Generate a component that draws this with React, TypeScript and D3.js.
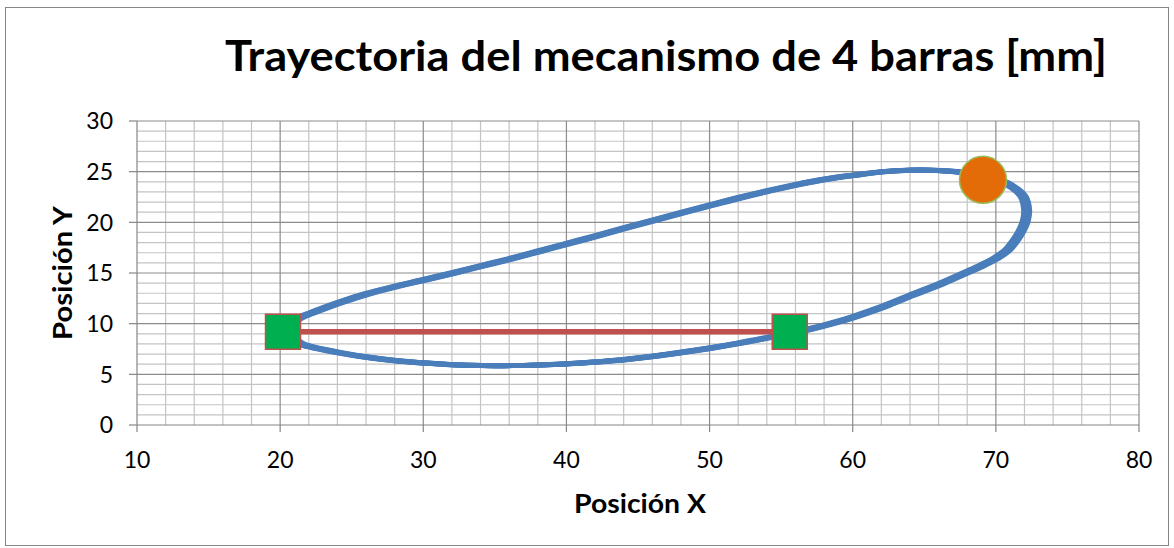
import React from "react";
import * as d3 from "d3";

// Coupler-point trajectory (mm)
const curveX = [
  20.3, 21.4, 22.1, 24.1, 26.1, 28.1, 30.1, 32.1, 34.1, 36.1, 38.1, 40.1, 42.0, 44.0, 46.1, 48.1,
  50.1, 52.1, 54.1, 56.2, 58.1, 60.1, 62.0, 64.0, 66.0, 68.0, 69.6, 71.0, 71.9, 72.15, 72.05, 71.75,
  71.3, 70.8, 70.1, 69.1, 68.1, 66.1, 64.1, 62.1, 60.1, 58.1, 57.1, 55.6, 54.1, 52.1, 50.1, 48.1, 46.1,
  44.0, 42.0, 40.1, 38.1, 36.1, 34.1, 32.1, 30.1, 28.1, 26.1, 24.1, 22.1, 21.4,
];
const curveY = [
  9.4, 10.6, 11.0, 12.05, 12.95, 13.68, 14.33, 15.0, 15.7, 16.4, 17.15, 17.9, 18.62, 19.4, 20.2, 20.96,
  21.7, 22.43, 23.1, 23.75, 24.25, 24.65, 24.98, 25.15, 25.12, 24.88, 24.45, 23.65, 22.55, 21.2, 20.1, 19.1,
  18.1, 17.25, 16.55, 15.8, 15.15, 13.9, 12.8, 11.65, 10.68, 9.86, 9.5, 9.05, 8.62, 8.08, 7.6, 7.18, 6.78,
  6.45, 6.22, 6.05, 5.92, 5.86, 5.88, 5.95, 6.12, 6.35, 6.68, 7.14, 7.73, 8.06,
];

// Ground link (fixed pivots)
const pivotX = [20.2, 55.6];
const pivotY = [9.2, 9.2];

// Current coupler point
const couplerX = [69.1];
const couplerY = [24.2];

const xTicks = [10, 20, 30, 40, 50, 60, 70, 80];
const yTicks = [0, 5, 10, 15, 20, 25, 30];
const xMinor = d3.range(10, 81, 2);
const yMinor = d3.range(0, 31, 1);

const W = 1174;
const H = 548;
const L = 137;
const R = 1139;
const T = 121;
const B = 425;

const FONT = "Lato, 'Open Sans', sans-serif";

export default function App() {
  const x = d3.scaleLinear().domain([10, 80]).range([L, R]);
  const y = d3.scaleLinear().domain([0, 30]).range([B, T]);

  const pts: [number, number][] = curveX.map((v, i) => [v, curveY[i]]);
  const line = d3
    .line<[number, number]>()
    .x((d) => x(d[0]))
    .y((d) => y(d[1]))
    .curve(d3.curveCatmullRomClosed.alpha(0.5));
  const path = line(pts) || "";

  const link = d3
    .line<number>()
    .x((d) => x(pivotX[d]))
    .y((d) => y(pivotY[d]))([0, 1]) || "";

  const offsets = [-3, -1.5, 0, 1.5, 3];
  const sq = 35;

  return (
    <div style={{ position: "absolute", left: 0, top: 0 }}>
      <svg width={W} height={H} style={{ display: "block" }}>
        <rect x={0} y={0} width={W} height={H} fill="#ffffff" />
        <rect x={5.5} y={7.5} width={1163} height={538} fill="#ffffff" stroke="#868686" strokeWidth={1} />

        {/* minor grid */}
        {xMinor
          .filter((v) => v % 10 !== 0)
          .map((v) => (
            <line key={"xm" + v} x1={x(v)} x2={x(v)} y1={T} y2={B} stroke="#c4c4c4" strokeWidth={1.2} />
          ))}
        {yMinor
          .filter((v) => v % 5 !== 0)
          .map((v) => (
            <line key={"ym" + v} x1={L} x2={R} y1={y(v)} y2={y(v)} stroke="#c4c4c4" strokeWidth={1.2} />
          ))}
        {/* major grid */}
        {xTicks.slice(1).map((v) => (
          <line key={"xM" + v} x1={x(v)} x2={x(v)} y1={T} y2={B} stroke="#8c8c8c" strokeWidth={1.2} />
        ))}
        {yTicks.slice(1).map((v) => (
          <line key={"yM" + v} x1={L} x2={R} y1={y(v)} y2={y(v)} stroke="#8c8c8c" strokeWidth={1.2} />
        ))}

        {/* axes */}
        <line x1={L} x2={L} y1={T} y2={B} stroke="#868686" strokeWidth={1.2} />
        <line x1={L} x2={R} y1={B} y2={B} stroke="#868686" strokeWidth={1.2} />
        {yTicks.map((v) => (
          <g key={"yt" + v}>
            <line x1={L - 8} x2={L} y1={y(v)} y2={y(v)} stroke="#868686" strokeWidth={1.2} />
            <text
              x={113}
              y={y(v)}
              dy="0.36em"
              textAnchor="end"
              fontFamily={FONT}
              fontSize={23}
              fill="#000"
            >
              {v}
            </text>
          </g>
        ))}
        {xTicks.map((v) => (
          <g key={"xt" + v}>
            <line x1={x(v)} x2={x(v)} y1={B} y2={B + 7} stroke="#868686" strokeWidth={1.2} />
            <text x={x(v)} y={468} textAnchor="middle" fontFamily={FONT} fontSize={23} fill="#000">
              {v}
            </text>
          </g>
        ))}

        {/* trajectory */}
        <g>
          {offsets.map((dx) => (
            <path
              key={"c" + dx}
              d={path}
              transform={`translate(${dx},0)`}
              fill="none"
              stroke="#4a7ebb"
              strokeWidth={5}
            />
          ))}
        </g>

        {/* ground link */}
        <path d={link} fill="none" stroke="#c0504d" strokeWidth={5.5} />
        {pivotX.map((v, i) => (
          <rect
            key={"p" + i}
            x={x(v) - sq / 2}
            y={y(pivotY[i]) - sq / 2}
            width={sq}
            height={sq}
            fill="#00b050"
            stroke="#c0504d"
            strokeWidth={1.5}
          />
        ))}

        {/* coupler point */}
        {couplerX.map((v, i) => (
          <circle
            key={"c" + i}
            cx={x(v)}
            cy={y(couplerY[i])}
            r={23.5}
            fill="#e36c09"
            stroke="#9bbb59"
            strokeWidth={1.5}
          />
        ))}

        {/* titles */}
        <text
          x={666}
          y={71}
          textAnchor="middle"
          fontFamily={FONT}
          fontWeight="bold"
          fontSize={42}
          textLength={882}
          lengthAdjust="spacingAndGlyphs"
          fill="#000"
        >
          Trayectoria del mecanismo de 4 barras [mm]
        </text>
        <text
          x={640}
          y={513}
          textAnchor="middle"
          fontFamily={FONT}
          fontWeight="bold"
          fontSize={26}
          textLength={132}
          lengthAdjust="spacingAndGlyphs"
          fill="#000"
        >
          Posición X
        </text>
        <text
          transform="translate(72,273) rotate(-90)"
          textAnchor="middle"
          fontFamily={FONT}
          fontWeight="bold"
          fontSize={26}
          textLength={134}
          lengthAdjust="spacingAndGlyphs"
          fill="#000"
        >
          Posición Y
        </text>
      </svg>
    </div>
  );
}
